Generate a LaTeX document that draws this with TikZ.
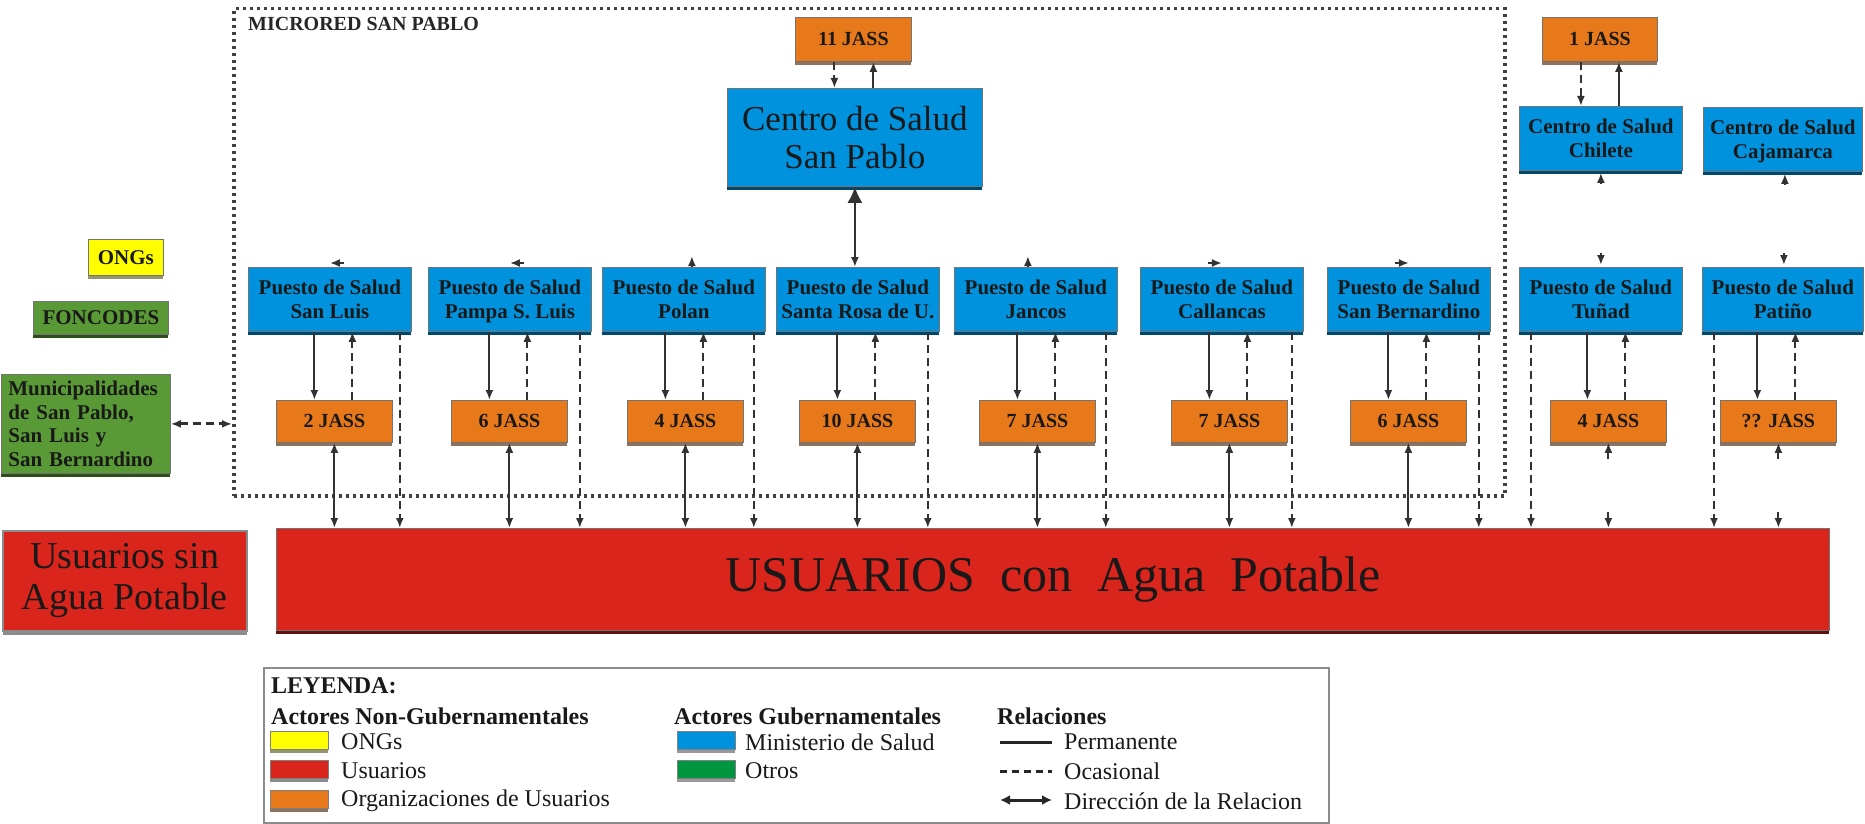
\documentclass[tikz,border=0pt]{standalone}
\usepackage{fontspec}
\setmainfont{Liberation Serif}
\usetikzlibrary{arrows.meta,shadows,calc}
\definecolor{msblue}{RGB}{0,146,221}
\definecolor{usorange}{RGB}{232,121,26}
\definecolor{usred}{RGB}{218,37,29}
\definecolor{ngyellow}{RGB}{255,255,0}
\definecolor{fgreen}{RGB}{90,154,54}
\definecolor{ogreen}{RGB}{0,150,63}
\definecolor{linegray}{RGB}{50,50,50}
\definecolor{orshadow}{RGB}{140,115,95}
\definecolor{ylshadow}{RGB}{150,150,110}
\begin{document}
\begin{tikzpicture}[x=1pt,y=-1pt,
  >={Latex[length=10pt,width=8pt]},
  basebox/.style={draw=black!55, line width=0.8pt, inner sep=0pt, anchor=north west, align=center, text=black!90},
  bshadow/.style={drop shadow={shadow xshift=0pt,shadow yshift=-4pt,fill=#1,opacity=1}},
  psbox/.style={basebox, fill=msblue, minimum width=163pt, minimum height=64pt, text depth=0pt,
    font=\fontsize{21}{24}\selectfont\bfseries, bshadow=msblue!50!black},
  jassbox/.style={basebox, fill=usorange, minimum width=116pt, minimum height=42pt,
    font=\fontsize{20}{24}\selectfont\bfseries, bshadow=orshadow},
  sol/.style={draw=linegray, line width=2pt},
  dsh/.style={draw=linegray, line width=2pt, dash pattern=on 8pt off 5pt},
  microred/.style={draw=black!75, line width=3.5pt, dash pattern=on 3pt off 4pt, inner sep=0pt, anchor=north west},
  lhead/.style={anchor=west, inner sep=0pt, font=\fontsize{24}{26}\selectfont\bfseries, text=black!90},
  ltext/.style={anchor=west, inner sep=0pt, font=\fontsize{24}{26}\selectfont, text=black!90},
  swatch/.style={draw=black!50, line width=0.6pt, anchor=north west, minimum width=58pt, minimum height=18pt, inner sep=0pt}
]
\useasboundingbox (0,0) rectangle (1865,824);

% Microred frame
\node[microred, minimum width=1271pt, minimum height=487pt] (mr) at (232,7) {};
\node[anchor=west, inner sep=0pt, font=\fontsize{20}{22}\selectfont\bfseries, text=black!85] (mrl) at (248,24) {MICRORED SAN PABLO};

% Top level
\node[jassbox, minimum height=44pt] (j0) at (795,17) {11 JASS};
\node[basebox, fill=msblue, minimum width=255pt, minimum height=98pt, font=\fontsize{35}{38}\selectfont, bshadow=msblue!50!black] (cs) at (727,88) {Centro de Salud\\San Pablo};
\node[jassbox, minimum height=44pt, minimum width=115pt] (jc) at (1542,17) {1 JASS};
\node[psbox] (cc) at (1519,106) {Centro de Salud\\Chilete};
\node[psbox, minimum width=159pt] (ck) at (1703,107) {Centro de Salud\\Cajamarca};

% Puestos
\node[psbox] (p1) at (248,267) {Puesto de Salud\\San Luis};
\node[psbox] (p2) at (428,267) {Puesto de Salud\\Pampa S. Luis};
\node[psbox] (p3) at (602,267) {Puesto de Salud\\Polan};
\node[psbox] (p4) at (776,267) {Puesto de Salud\\Santa Rosa de U.};
\node[psbox] (p5) at (954,267) {Puesto de Salud\\Jancos};
\node[psbox] (p6) at (1140,267) {Puesto de Salud\\Callancas};
\node[psbox] (p7) at (1327,267) {Puesto de Salud\\San Bernardino};
\node[psbox] (p8) at (1519,267) {Puesto de Salud\\Tuñad};
\node[psbox, minimum width=161pt] (p9) at (1702,267) {Puesto de Salud\\Patiño};

% JASS
\node[jassbox] (j1) at (276,400) {2 JASS};
\node[jassbox] (j2) at (451,400) {6 JASS};
\node[jassbox] (j3) at (627,400) {4 JASS};
\node[jassbox] (j4) at (799,400) {10 JASS};
\node[jassbox] (j5) at (979,400) {7 JASS};
\node[jassbox] (j6) at (1171,400) {7 JASS};
\node[jassbox] (j7) at (1350,400) {6 JASS};
\node[jassbox] (j8) at (1550,400) {4 JASS};
\node[jassbox] (j9) at (1720,400) {?? JASS};

% Left actors
\node[basebox, fill=ngyellow, minimum width=75pt, minimum height=36pt, font=\fontsize{21}{24}\selectfont\bfseries, bshadow=ylshadow] (ong) at (88,239) {ONGs};
\node[basebox, fill=fgreen, minimum width=135pt, minimum height=33pt, font=\fontsize{21}{24}\selectfont\bfseries, bshadow=fgreen!50!black] (fon) at (33,301) {FONCODES};
\node[basebox, fill=fgreen, inner xsep=7pt, text width=155pt, align=left, minimum height=99pt, font=\fontsize{21}{23.5}\selectfont\bfseries, bshadow=fgreen!50!black] (mu) at (1,374) {Municipalidades\\de San Pablo,\\San Luis y\\San Bernardino};

% Users
\node[basebox, draw=black!45, line width=1.5pt, fill=usred, minimum width=244pt, minimum height=100pt, font=\fontsize{38}{41}\selectfont, bshadow=black!45] (us) at (2,530) {Usuarios sin\\Agua Potable};
\node[basebox, fill=usred, minimum width=1553pt, minimum height=102pt, font=\fontsize{50}{54}\selectfont, bshadow=usred!45!black] (u) at (276,528) {USUARIOS\ \ con\ \ Agua\ \ Potable};

% ---- connectors ----
% 11 JASS <-> Centro San Pablo
\coordinate (a0) at ($(j0.south)+(-19,0)$);
\coordinate (b0) at ($(j0.south)+(20,0)$);
\draw[dsh,->] (a0) -- (a0 |- cs.north);
\draw[sol,->] (b0 |- cs.north) -- (b0);
% Centro San Pablo <-> Santa Rosa
\draw[sol,{Latex[length=16pt,width=15pt]}-{Latex[length=10pt,width=8pt]}] (cs.south) -- (cs.south |- p4.north);
% 1 JASS <-> Chilete
\coordinate (ac) at ($(jc.south)+(-19,0)$);
\coordinate (bc) at ($(jc.south)+(19,0)$);
\draw[dsh,->] (ac) -- (ac |- cc.north);
\draw[sol,->] (bc |- cc.north) -- (bc);

% arrow heads on top of puestos
\draw[sol,->] ($(p1.north)+(14,-4)$) -- ($(p1.north)+(0,-4)$);
\draw[sol,->] ($(p2.north)+(14,-4)$) -- ($(p2.north)+(0,-4)$);
\draw[sol,->] ($(p3.north)+(8,0)$) -- ($(p3.north)+(8,-11)$);
\draw[sol,->] ($(p5.north)+(-8,0)$) -- ($(p5.north)+(-8,-11)$);
\draw[sol,->] ($(p6.north)+(-14,-4)$) -- ($(p6.north)+(0,-4)$);
\draw[sol,->] ($(p7.north)+(-14,-4)$) -- ($(p7.north)+(0,-4)$);
% loose heads around Chilete / Cajamarca / Tunad / Patino
\draw[sol,->] ($(cc.south)+(0,13)$) -- ($(cc.south)+(0,2)$);
\draw[sol,->] ($(ck.south)+(2,13)$) -- ($(ck.south)+(2,2)$);
\draw[sol,->] ($(p8.north)+(0,-14)$) -- ($(p8.north)+(0,-2)$);
\draw[sol,->] ($(p9.north)+(1,-14)$) -- ($(p9.north)+(1,-2)$);

% Puesto <-> JASS <-> Usuarios (inside Microred)
\foreach \i in {1,...,7} {
  \coordinate (s\i) at ($(j\i.north)+(-20,0)$);
  \coordinate (d\i) at ($(j\i.north)+(18,0)$);
  \coordinate (e\i) at ($(p\i.south east)+(-12,0)$);
  \draw[sol,->] (s\i |- p\i.south) -- (s\i);
  \draw[dsh,->] (d\i) -- (d\i |- p\i.south);
  \draw[dsh,->] (e\i) -- (e\i |- u.north);
  \draw[sol,<->] (j\i.south) -- (j\i.south |- u.north);
}
% Tunad and Patino
\foreach \i in {8,9} {
  \coordinate (s\i) at ($(j\i.north)+(-21,0)$);
  \coordinate (d\i) at ($(j\i.north)+(17,0)$);
  \coordinate (e\i) at ($(p\i.south west)+(12,0)$);
  \draw[sol,->] (s\i |- p\i.south) -- (s\i);
  \draw[dsh,->] (d\i) -- (d\i |- p\i.south);
  \draw[dsh,->] (e\i) -- (e\i |- u.north);
  \coordinate (g\i) at ($(j\i.south)+(0,16)$);
  \draw[sol,->] (g\i) -- (j\i.south);
  \coordinate (h\i) at ($(j\i.south |- u.north)+(0,-16)$);
  \draw[sol,->] (h\i) -- (h\i |- u.north);
}

% Municipalidades <-> Microred
\draw[draw=linegray, line width=3pt, dash pattern=on 8pt off 5pt, <->] (mu.east) -- (mu.east -| mr.west);

% ---- Legend ----
\node[draw=black!45, line width=1.5pt, anchor=north west, minimum width=1065pt, minimum height=155pt, inner sep=0pt] (leg) at (263,667) {};
\node[lhead] (lt) at (271,686) {LEYENDA:};
\node[lhead] (lng) at (271,716) {Actores Non-Gubernamentales};
\node[lhead] (lg) at (674,716) {Actores Gubernamentales};
\node[lhead] (lr) at (997,716) {Relaciones};
\node[swatch, fill=ngyellow, bshadow=ylshadow] (sw1) at (270,731) {};
\node[swatch, fill=usred, bshadow=black!45] (sw2) at (270,760) {};
\node[swatch, fill=usorange, bshadow=orshadow] (sw3) at (270,790) {};
\node[swatch, fill=msblue, bshadow=black!40] (sw4) at (677,731) {};
\node[swatch, fill=ogreen, bshadow=black!40] (sw5) at (677,760) {};
\node[ltext] (t1) at (341,742) {ONGs};
\node[ltext] (t2) at (341,771) {Usuarios};
\node[ltext] (t3) at (341,801) {Organizaciones de Usuarios};
\node[ltext] (t4) at (745,742) {Ministerio de Salud};
\node[ltext] (t5) at (745,771) {Otros};
\node[ltext] (t6) at (1064,742) {Permanente};
\node[ltext] (t7) at (1064,771) {Ocasional};
\node[ltext] (t8) at (1064,801) {Dirección de la Relacion};
\coordinate (r1) at (1000,742);
\coordinate (r2) at (1000,771);
\coordinate (r3) at (1000,800);
\draw[black!85, line width=3pt] (r1) -- ($(r1 -| t6.west)+(-12,0)$);
\draw[black!85, line width=3pt, dash pattern=on 7pt off 5pt] (r2) -- ($(r2 -| t7.west)+(-12,0)$);
\draw[black!85, line width=3pt, {Latex[length=10pt,width=10pt]}-{Latex[length=10pt,width=10pt]}] (r3) -- ($(r3 -| t8.west)+(-12,0)$);
\end{tikzpicture}
\end{document}
